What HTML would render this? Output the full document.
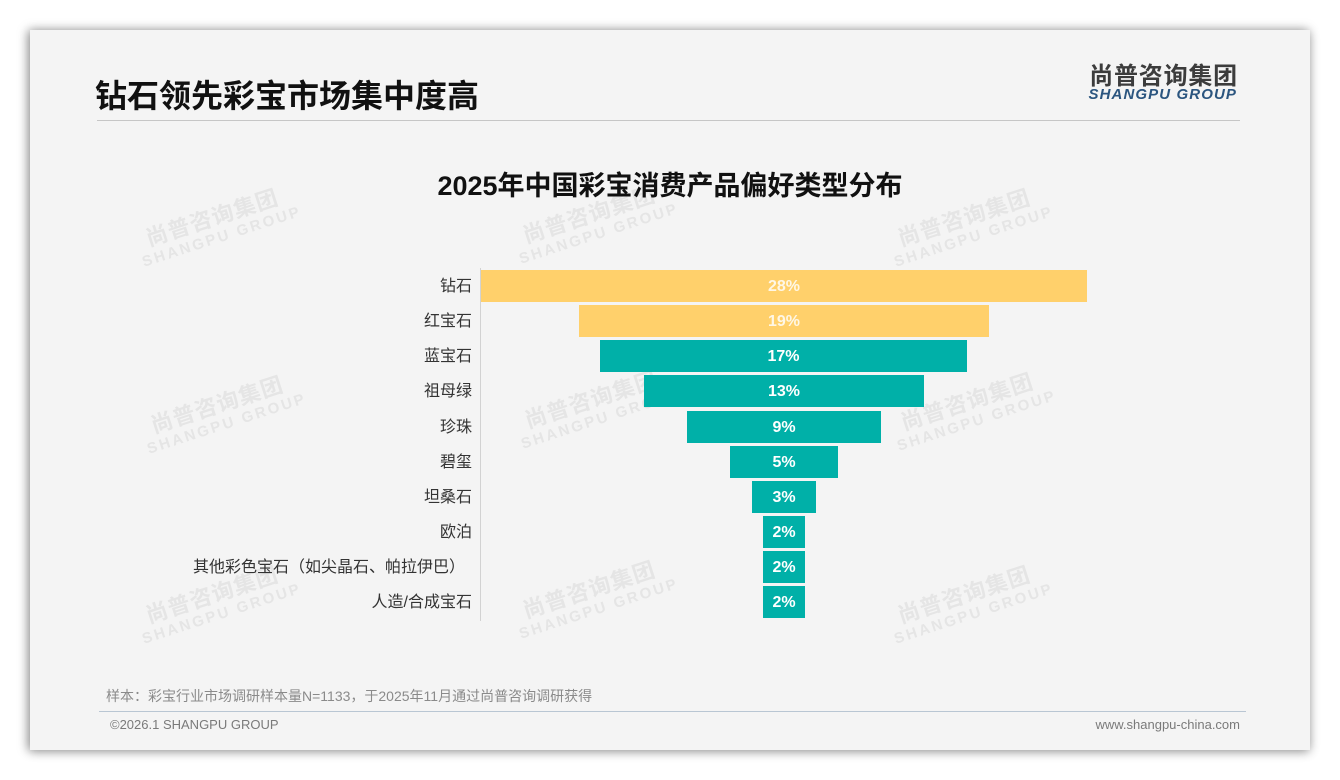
<!DOCTYPE html>
<html>
<head>
<meta charset="utf-8">
<style>
  html,body{margin:0;padding:0;}
  body{width:1340px;height:780px;background:#ffffff;position:relative;overflow:hidden;
       font-family:"Liberation Sans","Noto Sans CJK SC",sans-serif;}
  .card{position:absolute;left:30px;top:30px;width:1280px;height:720px;background:#f4f4f4;
        box-shadow:-2px 0 10px rgba(0,0,0,0.35), 0 2px 10px rgba(0,0,0,0.2);}
  .abs{position:absolute;white-space:nowrap;}
  .title{left:95px;top:76px;font-size:32px;font-weight:bold;color:#111;line-height:40px;letter-spacing:0px;}
  .hline{left:97px;top:120px;width:1143px;height:1px;background:#c6c6c6;}
  .logo1{right:102px;top:63px;font-size:24px;font-weight:bold;color:#3c3c3c;letter-spacing:0.8px;line-height:28px;}
  .logo2{right:103px;top:86px;font-size:15px;font-weight:bold;font-style:italic;color:#2b557f;letter-spacing:1.1px;line-height:18px;}
  .ctitle{left:0;width:1340px;text-align:center;top:169px;font-size:27px;font-weight:bold;color:#111;line-height:34px;}
  .axis{left:480px;top:268px;width:1px;height:353px;background:#d2d2d2;}
  .lbl{right:868px;font-size:16px;color:#333;line-height:20px;text-align:right;}
  .bar{position:absolute;height:32px;color:#fff;font-weight:bold;font-size:16px;line-height:34px;text-align:center;}
  .y{background:#ffd06b;color:#fff7e6;}
  .t{background:#00b0a8;}
  .wm{position:absolute;color:#e5e5e5;transform:rotate(-18deg);text-align:center;line-height:1;white-space:nowrap;width:160px;}
  .wm .a{font-size:22px;font-weight:bold;letter-spacing:1px;}
  .wm .b{font-size:15px;font-weight:bold;letter-spacing:2.5px;margin-top:2px;}
  .foot{left:106px;top:688px;font-size:14px;color:#8a8a8a;line-height:16px;}
  .fline{left:99px;top:711px;width:1147px;height:1px;background:#b9c6d3;}
  .copy{left:110px;top:717px;font-size:13px;color:#7a7a7a;line-height:16px;}
  .www{right:100px;top:717px;font-size:13px;color:#7a7a7a;line-height:16px;}
</style>
</head>
<body>
<div class="card"></div>

<!-- watermarks -->
<div class="wm" style="left:135px;top:207px;"><div class="a">尚普咨询集团</div><div class="b">SHANGPU GROUP</div></div>
<div class="wm" style="left:512px;top:204px;"><div class="a">尚普咨询集团</div><div class="b">SHANGPU GROUP</div></div>
<div class="wm" style="left:887px;top:207px;"><div class="a">尚普咨询集团</div><div class="b">SHANGPU GROUP</div></div>
<div class="wm" style="left:140px;top:394px;"><div class="a">尚普咨询集团</div><div class="b">SHANGPU GROUP</div></div>
<div class="wm" style="left:514px;top:389px;"><div class="a">尚普咨询集团</div><div class="b">SHANGPU GROUP</div></div>
<div class="wm" style="left:890px;top:391px;"><div class="a">尚普咨询集团</div><div class="b">SHANGPU GROUP</div></div>
<div class="wm" style="left:135px;top:584px;"><div class="a">尚普咨询集团</div><div class="b">SHANGPU GROUP</div></div>
<div class="wm" style="left:512px;top:579px;"><div class="a">尚普咨询集团</div><div class="b">SHANGPU GROUP</div></div>
<div class="wm" style="left:887px;top:584px;"><div class="a">尚普咨询集团</div><div class="b">SHANGPU GROUP</div></div>

<div class="abs title">钻石领先彩宝市场集中度高</div>
<div class="abs hline"></div>
<div class="abs logo1">尚普咨询集团</div>
<div class="abs logo2">SHANGPU GROUP</div>

<div class="abs ctitle">2025年中国彩宝消费产品偏好类型分布</div>

<div class="abs axis"></div>

<!-- labels -->
<div class="abs lbl" style="top:277px;">钻石</div>
<div class="abs lbl" style="top:312px;">红宝石</div>
<div class="abs lbl" style="top:347px;">蓝宝石</div>
<div class="abs lbl" style="top:382px;">祖母绿</div>
<div class="abs lbl" style="top:418px;">珍珠</div>
<div class="abs lbl" style="top:453px;">碧玺</div>
<div class="abs lbl" style="top:488px;">坦桑石</div>
<div class="abs lbl" style="top:523px;">欧泊</div>
<div class="abs lbl" style="top:558px;right:875px;">其他彩色宝石（如尖晶石、帕拉伊巴）</div>
<div class="abs lbl" style="top:593px;">人造/合成宝石</div>

<!-- bars -->
<div class="bar y" style="left:481px;width:606px;top:270px;">28%</div>
<div class="bar y" style="left:579px;width:410px;top:305px;">19%</div>
<div class="bar t" style="left:600px;width:367px;top:340px;">17%</div>
<div class="bar t" style="left:644px;width:280px;top:375px;">13%</div>
<div class="bar t" style="left:687px;width:194px;top:411px;">9%</div>
<div class="bar t" style="left:730px;width:108px;top:446px;">5%</div>
<div class="bar t" style="left:752px;width:64px;top:481px;">3%</div>
<div class="bar t" style="left:763px;width:42px;top:516px;">2%</div>
<div class="bar t" style="left:763px;width:42px;top:551px;">2%</div>
<div class="bar t" style="left:763px;width:42px;top:586px;">2%</div>

<div class="abs foot">样本：彩宝行业市场调研样本量N=1133，于2025年11月通过尚普咨询调研获得</div>
<div class="abs fline"></div>
<div class="abs copy">©2026.1 SHANGPU GROUP</div>
<div class="abs www">www.shangpu-china.com</div>
</body>
</html>
